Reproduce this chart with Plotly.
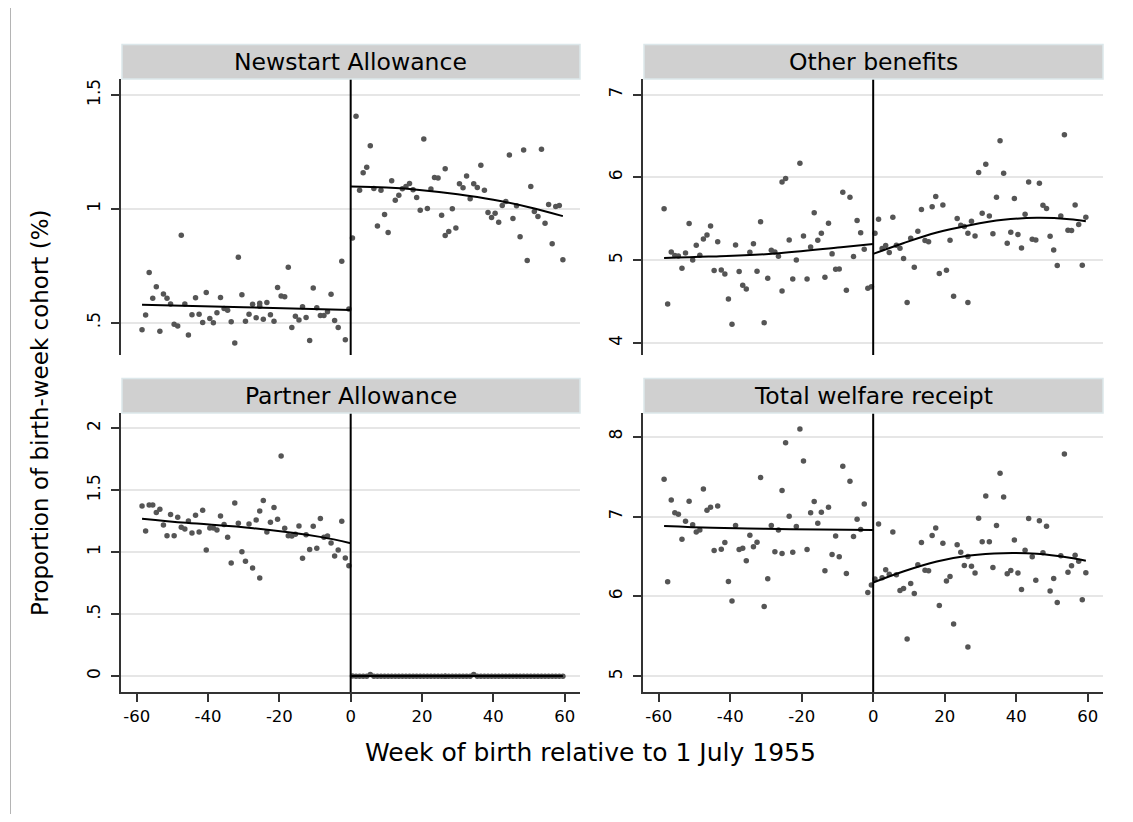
import plotly.graph_objects as go

# birth week (centre of week) relative to 1 July 1955; one week appears twice on each side
WEEKS_PRE = [w + 0.5 for w in range(-59, -25)] + [w + 0.5 for w in range(-26, 0)]
WEEKS_POST = [w + 0.5 for w in range(0, 27)] + [w + 0.5 for w in range(26, 60)]

NEWSTART_PRE = [
    0.469, 0.534, 0.720, 0.607, 0.658, 0.462, 0.626, 0.607, 0.582, 0.493,
    0.485, 0.884, 0.582, 0.446, 0.535, 0.609, 0.537, 0.501, 0.632, 0.518,
    0.500, 0.543, 0.610, 0.562, 0.554, 0.504, 0.411, 0.787, 0.623, 0.506,
    0.537, 0.581, 0.522, 0.585, 0.572, 0.515, 0.589, 0.535, 0.506, 0.654,
    0.617, 0.614, 0.743, 0.479, 0.528, 0.512, 0.570, 0.523, 0.422, 0.652,
    0.566, 0.532, 0.532, 0.548, 0.625, 0.509, 0.479, 0.770, 0.425, 0.560,
]
NEWSTART_POST = [
    0.872, 1.406, 1.082, 1.158, 1.183, 1.277, 1.089, 0.925, 1.081, 0.975,
    0.896, 1.123, 1.038, 1.060, 1.088, 1.098, 1.111, 1.084, 1.050, 0.994,
    1.306, 1.001, 1.087, 1.138, 1.135, 0.972, 1.176, 0.883, 0.900, 1.000,
    0.916, 1.110, 1.092, 1.144, 1.044, 1.110, 1.094, 1.191, 1.081, 0.984,
    0.962, 0.981, 0.941, 1.015, 1.032, 1.236, 0.957, 1.013, 0.877, 1.258,
    0.773, 1.098, 0.988, 0.966, 1.262, 0.937, 1.019, 0.846, 1.010, 1.015,
    0.776,
]
OTHER_PRE = [
    5.621, 4.472, 5.101, 5.056, 5.052, 4.903, 5.089, 5.444, 5.004, 5.181,
    5.060, 5.258, 5.306, 5.415, 4.875, 5.222, 4.883, 4.835, 4.532, 4.226,
    5.185, 4.863, 4.698, 4.653, 5.097, 5.198, 4.867, 5.464, 4.246, 4.782,
    5.121, 5.101, 5.048, 5.944, 4.629, 5.988, 5.246, 4.774, 5.004, 6.173,
    5.294, 4.774, 5.161, 5.573, 5.242, 5.327, 4.794, 5.448, 5.077, 4.891,
    4.895, 5.823, 4.637, 5.762, 5.044, 5.480, 5.331, 5.133, 4.661, 4.681,
]
OTHER_POST = [
    5.327, 5.496, 5.141, 5.177, 5.093, 5.520, 5.181, 5.145, 5.020, 4.488,
    5.266, 4.915, 5.351, 5.613, 5.238, 5.222, 5.645, 5.770, 4.839, 5.669,
    4.879, 5.242, 4.565, 5.504, 5.423, 5.407, 5.327, 4.488, 5.472, 5.294,
    6.060, 5.569, 6.161, 5.536, 5.319, 5.762, 6.444, 6.052, 5.206, 5.339,
    5.746, 5.310, 5.149, 5.556, 5.944, 5.254, 5.246, 5.931, 5.665, 5.625,
    5.290, 5.125, 4.935, 5.536, 6.516, 5.363, 5.359, 5.669, 5.431, 4.940,
    5.520,
]
PARTNER_PRE = [
    1.374, 1.172, 1.382, 1.382, 1.320, 1.347, 1.220, 1.134, 1.304, 1.134,
    1.282, 1.202, 1.188, 1.253, 1.156, 1.298, 1.164, 1.339, 1.019, 1.196,
    1.196, 1.180, 1.293, 1.223, 1.121, 0.914, 1.398, 1.234, 1.005, 0.927,
    1.228, 0.874, 1.261, 1.333, 0.793, 1.417, 1.164, 1.242, 1.360, 1.266,
    1.777, 1.194, 1.134, 1.132, 1.145, 1.212, 0.952, 1.142, 1.022, 1.210,
    1.032, 1.272, 1.121, 1.132, 1.075, 0.970, 1.019, 1.250, 0.954, 0.892,
]
PARTNER_POST = [
    0.003, 0.000, 0.000, 0.000, 0.000, 0.015, 0.000, 0.000, 0.000, 0.000,
    0.000, 0.000, 0.000, 0.000, 0.000, 0.000, 0.000, 0.000, 0.000, 0.000,
    0.000, 0.000, 0.000, 0.000, 0.000, 0.000, 0.000, 0.000, 0.000, 0.000,
    0.000, 0.000, 0.000, 0.000, 0.000, 0.015, 0.000, 0.000, 0.000, 0.000,
    0.000, 0.000, 0.000, 0.000, 0.000, 0.000, 0.000, 0.000, 0.000, 0.000,
    0.000, 0.000, 0.000, 0.000, 0.000, 0.000, 0.000, 0.000, 0.000, 0.000,
    0.000,
]
TOTAL_PRE = [
    7.467, 6.183, 7.208, 7.046, 7.029, 6.717, 6.942, 7.192, 6.896, 6.808,
    6.833, 7.346, 7.079, 7.117, 6.575, 7.133, 6.592, 6.675, 6.188, 5.942,
    6.888, 6.588, 6.604, 6.446, 6.767, 6.621, 6.679, 7.488, 5.875, 6.221,
    6.888, 6.558, 6.833, 7.325, 6.538, 7.925, 7.004, 6.554, 6.875, 8.096,
    7.696, 6.588, 7.046, 7.188, 6.917, 7.054, 6.321, 7.117, 6.525, 6.758,
    6.496, 7.629, 6.288, 7.442, 6.750, 6.967, 6.838, 7.158, 6.050, 6.142,
]
TOTAL_POST = [
    6.217, 6.908, 6.233, 6.333, 6.279, 6.808, 6.271, 6.075, 6.100, 5.467,
    6.163, 6.038, 6.396, 6.675, 6.329, 6.321, 6.763, 6.858, 5.888, 6.667,
    6.192, 6.250, 5.654, 6.646, 6.554, 6.388, 6.500, 5.367, 6.379, 6.292,
    6.979, 6.683, 7.258, 6.683, 6.363, 6.888, 7.542, 7.246, 6.283, 6.325,
    6.708, 6.292, 6.088, 6.579, 6.975, 6.496, 6.204, 6.946, 6.546, 6.879,
    6.067, 6.225, 5.925, 6.508, 7.783, 6.304, 6.383, 6.517, 6.442, 5.958,
    6.296,
]

# fitted polynomial lines
FIT_NEWSTART_PRE = ([-58.5, -30, 0], [0.579, 0.568, 0.556])
FIT_NEWSTART_POST = ([0, 10, 20, 30, 40, 50, 59.5], [1.098, 1.093, 1.082, 1.064, 1.040, 1.007, 0.968])
FIT_OTHER_PRE = ([-58.5, -46, -27.5, -9, 0], [5.028, 5.044, 5.080, 5.157, 5.195])
FIT_OTHER_POST = ([0, 8.4, 17.8, 27, 36.4, 45.8, 55, 59.5], [5.077, 5.206, 5.335, 5.423, 5.488, 5.512, 5.496, 5.472])
FIT_PARTNER_PRE = ([-58.5, -46, -27.3, -8.6, 0], [1.271, 1.237, 1.194, 1.124, 1.073])
FIT_PARTNER_POST = ([0, 59.5], [0.003, 0.003])
FIT_TOTAL_PRE = ([-58.5, -45, -30, -15, 0], [6.883, 6.860, 6.846, 6.837, 6.833])
FIT_TOTAL_POST = ([0, 8.4, 17.8, 27, 36.4, 45.8, 55, 59.5], [6.175, 6.313, 6.438, 6.513, 6.542, 6.533, 6.483, 6.446])

X_TICKS = [-60, -40, -20, 0, 20, 40, 60]
X_TICKTEXT = ["-60", "-40", "-20", "0", "20", "40", "60"]

PANELS = [
    dict(title="Newstart Allowance", pre=NEWSTART_PRE, post=NEWSTART_POST,
         fits=[FIT_NEWSTART_PRE, FIT_NEWSTART_POST], yrange=[0.358, 1.570],
         ticks=[0.5, 1, 1.5], ticktext=[".5", "1", "1.5"]),
    dict(title="Other benefits", pre=OTHER_PRE, post=OTHER_POST,
         fits=[FIT_OTHER_PRE, FIT_OTHER_POST], yrange=[3.855, 7.19],
         ticks=[4, 5, 6, 7], ticktext=["4", "5", "6", "7"]),
    dict(title="Partner Allowance", pre=PARTNER_PRE, post=PARTNER_POST,
         fits=[FIT_PARTNER_PRE, FIT_PARTNER_POST], yrange=[-0.127, 2.123],
         ticks=[0, 0.5, 1, 1.5, 2], ticktext=["0", ".5", "1", "1.5", "2"]),
    dict(title="Total welfare receipt", pre=TOTAL_PRE, post=TOTAL_POST,
         fits=[FIT_TOTAL_PRE, FIT_TOTAL_POST], yrange=[4.804, 8.296],
         ticks=[5, 6, 7, 8], ticktext=["5", "6", "7", "8"]),
]

# the page puts the figure 8px in from the top-left corner
OFF = 8
W, H = 1133 - 2 * OFF, 822 - 2 * OFF


def px(x):
    return (x - OFF) / W


def py(y):
    return 1 - (y - OFF) / H


X_DOMAINS = [[px(121), px(580)], [px(643), px(1103)]]
Y_DOMAINS = [[py(355), py(79)], [py(692), py(413)]]
STRIP_H = 34.5 / H
FONT = "DejaVu Sans, Verdana, sans-serif"
DOT = "#555555"

fig = go.Figure()
layout = dict(
    width=W, height=H,
    paper_bgcolor="white", plot_bgcolor="white",
    margin=dict(l=0, r=0, t=0, b=0),
    showlegend=False,
    font=dict(family=FONT, color="black", size=16),
)
shapes = []
annotations = []

for i, p in enumerate(PANELS):
    row, col = divmod(i, 2)
    n = i + 1
    xa, ya = f"x{n}" if n > 1 else "x", f"y{n}" if n > 1 else "y"
    bottom = row == 1

    fig.add_trace(go.Scatter(
        x=WEEKS_PRE + WEEKS_POST, y=p["pre"] + p["post"], mode="markers",
        marker=dict(color=DOT, size=5.5), xaxis=xa, yaxis=ya,
    ))
    for fx, fy in p["fits"]:
        fig.add_trace(go.Scatter(
            x=fx, y=fy, mode="lines", line=dict(color="black", width=2, shape="spline"),
            xaxis=xa, yaxis=ya,
        ))

    layout[f"xaxis{n if n > 1 else ''}"] = dict(
        domain=X_DOMAINS[col], range=[-64.4, 64.3], anchor=ya,
        showgrid=False, zeroline=False,
        showline=bottom, linecolor="#333333", linewidth=1.5,
        ticks="outside" if bottom else "", ticklen=8, tickwidth=1.5, tickcolor="#333333",
        tickvals=X_TICKS, ticktext=X_TICKTEXT, showticklabels=bottom,
        tickfont=dict(size=16.5),
    )
    layout[f"yaxis{n if n > 1 else ''}"] = dict(
        domain=Y_DOMAINS[row], range=p["yrange"], anchor=xa,
        showgrid=True, gridcolor="#e6e6e6", gridwidth=1.5, zeroline=False,
        showline=True, linecolor="#333333", linewidth=1.5,
        ticks="outside", ticklen=8, tickwidth=1.5, tickcolor="#333333",
        tickvals=p["ticks"], ticktext=p["ticktext"], tickangle=-90,
        tickfont=dict(size=17), ticklabelstandoff=4,
    )

    # cut-off line at week 0
    shapes.append(dict(type="line", xref=xa, yref=f"{ya} domain", x0=0, x1=0, y0=0, y1=1,
                       line=dict(color="black", width=2)))
    # strip header
    top = Y_DOMAINS[row][1]
    shapes.append(dict(type="rect", xref="paper", yref="paper",
                       x0=X_DOMAINS[col][0] + 1 / W, x1=X_DOMAINS[col][1],
                       y0=top, y1=top + STRIP_H,
                       fillcolor="#d0d0d0", line=dict(color="#dce7ea", width=1.5)))
    annotations.append(dict(xref="paper", yref="paper",
                            x=sum(X_DOMAINS[col]) / 2, y=top + STRIP_H / 2,
                            text=p["title"], showarrow=False,
                            font=dict(size=23.5, family=FONT, color="black"),
                            xanchor="center", yanchor="middle"))

# thin frame line at the far left
shapes.append(dict(type="line", xref="paper", yref="paper", x0=px(10.5), x1=px(10.5),
                   y0=0, y1=1, line=dict(color="#b4b4b4", width=1)))

annotations.append(dict(xref="paper", yref="paper", x=px(40), y=py(413),
                        text="Proportion of birth-week cohort (%)", textangle=-90,
                        showarrow=False, font=dict(size=23, family=FONT),
                        xanchor="center", yanchor="middle"))
annotations.append(dict(xref="paper", yref="paper", x=px(590), y=py(752),
                        text="Week of birth relative to 1 July 1955",
                        showarrow=False, font=dict(size=25, family=FONT),
                        xanchor="center", yanchor="middle"))

layout["shapes"] = shapes
layout["annotations"] = annotations
fig.update_layout(**layout)

fig.write_html("out.html")
